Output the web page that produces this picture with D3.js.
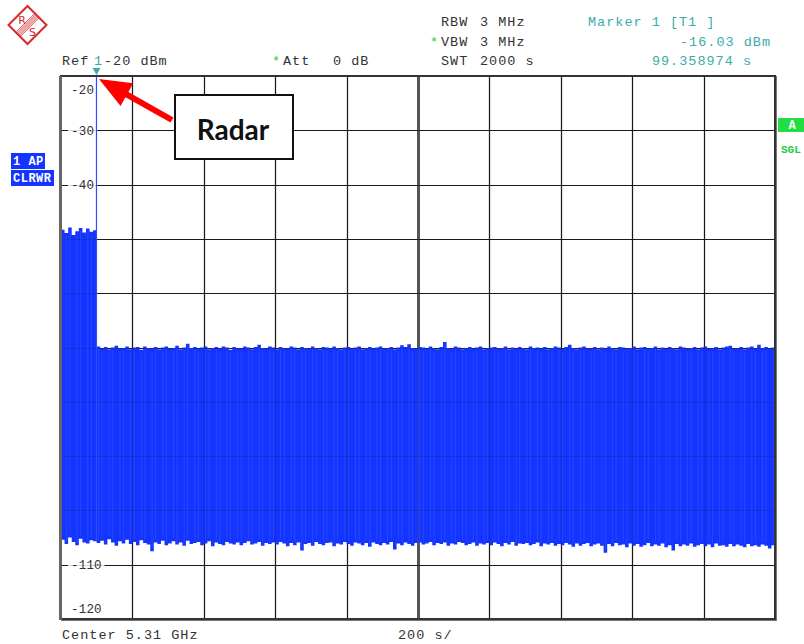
<!DOCTYPE html>
<html><head><meta charset="utf-8">
<script src="https://cdn.jsdelivr.net/npm/d3@7/dist/d3.min.js"></script>
<style>
html,body{margin:0;padding:0;background:#fff;}
svg{display:block;}
</style></head>
<body><div id="chart"></div>
<script>
// ---- data ----
const sweepTime = 2000;              // s
const binWidth = 10;                 // s per sample
const refLevel = -20, bottomLevel = -120;
const timeTicks = [0,200,400,600,800,1000,1200,1400,1600,1800,2000];
const levelTicks = [-120,-110,-100,-90,-80,-70,-60,-50,-40,-30,-20];
const levelLabels = ["-20","-30","-40","-110","-120"];
const levelLabelValues = [-20,-30,-40,-110,-120];
// upper envelope (dBm) per 10 s bin
const peakLevel = [
-48.3,-48.9,-47.9,-49.3,-48.6,-48.0,-48.8,-48.1,-48.7,-48.4,
-69.8,-70.2,-69.9,-70.3,-70.0,-69.7,-70.2,-70.1,-69.8,-70.3,
-70.0,-69.9,-70.4,-69.8,-70.1,-70.2,-69.9,-70.3,-70.0,-69.8,
-70.2,-70.1,-69.7,-70.3,-70.0,-69.3,-70.1,-69.9,-70.2,-70.0,
-69.8,-70.3,-70.1,-69.9,-70.2,-69.8,-70.0,-70.4,-69.9,-70.1,
-70.2,-69.8,-70.0,-70.3,-69.9,-69.5,-70.1,-70.2,-69.8,-70.0,
-70.3,-69.9,-70.1,-70.2,-69.8,-70.0,-70.3,-69.9,-70.1,-70.2,
-69.8,-70.1,-70.3,-69.9,-70.0,-70.2,-69.8,-70.1,-70.3,-70.0,
-69.9,-70.2,-70.0,-69.8,-70.3,-70.1,-69.9,-70.2,-70.0,-69.8,
-70.2,-70.1,-69.9,-70.3,-70.0,-69.6,-69.9,-69.4,-70.1,-70.2,
-69.9,-70.0,-70.2,-69.8,-70.1,-70.3,-69.9,-69.0,-70.1,-70.2,
-69.8,-70.0,-70.3,-70.1,-69.9,-70.2,-70.0,-69.8,-70.3,-70.1,
-70.0,-69.9,-70.2,-70.1,-69.8,-70.3,-70.0,-70.2,-69.9,-70.1,
-70.3,-69.8,-70.1,-70.0,-70.2,-69.9,-70.3,-70.1,-69.8,-70.0,
-70.2,-69.9,-69.5,-70.1,-70.3,-70.0,-69.8,-70.2,-70.1,-69.9,
-70.3,-70.0,-70.2,-69.8,-70.1,-70.3,-69.9,-70.0,-70.2,-70.1,
-69.8,-70.3,-70.0,-69.9,-70.2,-70.1,-69.8,-70.3,-70.0,-70.2,
-69.9,-70.1,-70.3,-69.8,-70.0,-70.2,-70.1,-69.9,-70.3,-70.0,
-69.8,-70.2,-70.1,-69.9,-70.3,-70.0,-69.8,-69.7,-70.2,-70.1,
-69.9,-70.3,-70.0,-69.8,-70.2,-69.5,-70.1,-69.9,-70.2,-70.0];
// lower envelope (dBm) per 10 s bin
const floorLevel = [
-105.4,-106.2,-105.0,-105.8,-106.4,-105.2,-105.9,-106.1,-105.5,-105.7,
-106.0,-105.6,-106.3,-105.3,-105.9,-106.5,-105.7,-106.1,-105.4,-106.2,
-105.8,-106.4,-105.5,-106.0,-106.3,-107.5,-105.9,-106.2,-105.6,-106.4,
-106.1,-105.7,-106.3,-105.9,-106.5,-105.6,-106.2,-106.0,-105.8,-106.4,
-106.1,-105.7,-106.6,-105.9,-106.2,-106.4,-105.8,-106.1,-106.3,-105.9,
-106.4,-106.0,-105.7,-106.3,-106.1,-105.8,-106.5,-106.0,-106.2,-105.9,
-106.3,-105.8,-106.1,-106.6,-106.0,-106.4,-105.9,-107.4,-106.2,-106.0,
-106.5,-105.8,-106.2,-106.4,-106.0,-105.9,-106.6,-106.1,-106.3,-105.8,
-106.2,-106.5,-105.9,-106.1,-106.4,-106.0,-106.7,-105.9,-106.2,-106.4,
-106.0,-106.3,-105.8,-107.2,-106.1,-106.4,-105.9,-106.2,-106.5,-106.0,
-105.9,-106.3,-106.1,-105.8,-106.4,-106.0,-106.2,-105.9,-106.5,-106.1,
-106.3,-105.8,-106.0,-106.4,-106.2,-105.9,-106.5,-106.1,-106.3,-106.0,
-106.4,-105.9,-106.2,-106.6,-106.0,-106.3,-105.8,-106.5,-106.1,-106.2,
-106.0,-106.4,-106.2,-105.9,-106.6,-106.1,-106.3,-106.0,-106.5,-106.2,
-106.4,-106.0,-106.3,-106.7,-106.1,-106.5,-106.2,-106.0,-106.6,-106.3,
-106.1,-106.5,-107.8,-106.2,-106.6,-106.0,-106.4,-106.3,-106.8,-106.1,
-106.5,-106.2,-106.7,-106.4,-106.0,-106.6,-106.3,-106.5,-106.1,-106.8,
-106.4,-107.4,-106.2,-106.6,-106.3,-106.5,-106.1,-106.7,-106.4,-106.2,
-106.6,-106.3,-106.8,-106.1,-106.5,-106.4,-106.7,-106.2,-106.6,-106.3,
-106.5,-106.8,-106.2,-106.6,-106.4,-106.7,-106.3,-106.5,-107.0,-106.4];
const markerTime = 99.358974;   // s
const markerLevel = -16.03;     // dBm

// ---- layout ----
const W = 804, H = 644;
const plot = {left: 61, right: 775, top: 76, bottom: 619};
const blue = "#1434ff", teal = "#3aabab", txt = "#333";
const mono = "'Liberation Mono','Courier New',monospace";

const x = d3.scaleLinear().domain([0, sweepTime]).range([plot.left, plot.right]);
const y = d3.scaleLinear().domain([bottomLevel, refLevel]).range([plot.bottom, plot.top]);

const svg = d3.select("#chart").append("svg").attr("width", W).attr("height", H);
svg.append("rect").attr("width", W).attr("height", H).attr("fill", "#fff");

svg.append("defs").append("clipPath").attr("id", "clip")
  .append("rect").attr("x", plot.left).attr("y", plot.top)
  .attr("width", plot.right - plot.left).attr("height", plot.bottom - plot.top);

// grid
function drawGrid(g, op) {
  g.selectAll(".vg").data(timeTicks.slice(1, -1)).join("line")
    .attr("x1", d => Math.round(x(d)) + 0.5).attr("x2", d => Math.round(x(d)) + 0.5)
    .attr("y1", plot.top).attr("y2", plot.bottom)
    .attr("stroke", d => d === 1000 ? "#555" : "#1a1a1a")
    .attr("stroke-width", d => d === 1000 ? 3 : 1.2).attr("opacity", op);
  g.selectAll(".hg").data(levelTicks.slice(1, -1)).join("line")
    .attr("x1", plot.left).attr("x2", plot.right)
    .attr("y1", d => Math.round(y(d)) + 0.5).attr("y2", d => Math.round(y(d)) + 0.5)
    .attr("stroke", "#1a1a1a").attr("stroke-width", 1.2).attr("opacity", op);
}
drawGrid(svg.append("g"), 1);

// level labels
const lab = svg.append("g").attr("font-family", mono).attr("font-size", 12.5).attr("fill", txt);
levelLabelValues.forEach((v, i) => {
  let cy = y(v);
  if (v === refLevel) cy += 13; else if (v === bottomLevel) cy -= 11;
  const t = levelLabels[i];
  const w = t.length * 7.4;
  lab.append("rect").attr("x", 68).attr("y", cy - 7).attr("width", w + 7).attr("height", 14).attr("fill", "#fff");
  lab.append("text").attr("x", 71).attr("y", cy + 4.5).attr("letter-spacing", 0.2).text(t);
});

// trace
const trace = svg.append("g").attr("clip-path", "url(#clip)");
const bins = peakLevel.map((p, i) => ({t: i * binWidth, hi: p, lo: floorLevel[i]}));
const stepData = bins.concat([{t: sweepTime, hi: peakLevel[peakLevel.length - 1], lo: floorLevel[floorLevel.length - 1]}]);
const area = d3.area().curve(d3.curveStepAfter)
  .x(d => x(d.t)).y0(d => y(d.lo)).y1(d => y(d.hi));
trace.append("path").datum(stepData).attr("d", area).attr("fill", blue);
// lighter sweep lines inside the envelope
trace.selectAll(".sw").data(bins.filter((d, i) => i % 3 !== 0)).join("line")
  .attr("x1", d => x(d.t + binWidth * 0.5)).attr("x2", d => x(d.t + binWidth * 0.5))
  .attr("y1", d => y(d.hi) + 3).attr("y2", d => y(d.lo) - 3)
  .attr("stroke", "#5c7aff").attr("stroke-width", 0.8).attr("opacity", 0.35);
// faint grid showing through the trace
drawGrid(trace.append("g"), 0.18);
// marker spike
const mBin = bins[Math.floor(markerTime / binWidth)];
trace.append("line")
  .attr("x1", x(markerTime)).attr("x2", x(markerTime))
  .attr("y1", y(mBin.lo)).attr("y2", y(markerLevel))
  .attr("stroke", "#2f4bff").attr("stroke-width", 1.2);

// frame
svg.append("rect").attr("x", plot.left).attr("y", plot.top)
  .attr("width", plot.right - plot.left).attr("height", plot.bottom - plot.top)
  .attr("fill", "none").attr("stroke", "#333").attr("stroke-width", 2);
svg.append("line").attr("x1", plot.left - 0.5).attr("x2", plot.left - 0.5)
  .attr("y1", plot.top).attr("y2", plot.bottom + 1).attr("stroke", "#666").attr("stroke-width", 3);
svg.append("line").attr("x1", plot.right + 1.5).attr("x2", plot.right + 1.5)
  .attr("y1", plot.top).attr("y2", plot.bottom + 1).attr("stroke", "#777").attr("stroke-width", 1);
svg.append("line").attr("x1", plot.left).attr("x2", plot.right + 2)
  .attr("y1", plot.bottom + 1.5).attr("y2", plot.bottom + 1.5).attr("stroke", "#777").attr("stroke-width", 1);

// marker triangle
const mx = x(markerTime);
svg.append("path").attr("d", `M${mx - 4},${plot.top - 8} L${mx + 4},${plot.top - 8} L${mx},${plot.top - 1} Z`).attr("fill", teal);

// header text
const hdr = svg.append("g").attr("font-family", mono).attr("font-size", 13.5).attr("fill", txt).attr("letter-spacing", 1);
function t(xp, yp, s, col, anchor) {
  return hdr.append("text").attr("x", xp).attr("y", yp).attr("fill", col || txt)
    .attr("text-anchor", anchor || "start").text(s);
}
t(441, 26, "RBW"); t(480, 26, "3 MHz");
t(430, 46, "*", "#22cc22"); t(441, 46, "VBW"); t(480, 46, "3 MHz");
t(441, 65, "SWT"); t(480, 65, "2000 s");
t(588, 26, "Marker 1 [T1 ]", teal);
t(771, 46, "-16.03 dBm", teal, "end");
t(752, 65, "99.358974 s", teal, "end");
t(62, 65, "Ref"); t(94, 65, "1", teal); t(104, 65, "-20 dBm");
t(272, 65, "*", "#22cc22"); t(283, 65, "Att"); t(333, 65, "0 dB");
t(62, 639, "Center 5.31 GHz"); t(398, 639, "200 s/");

// left status boxes
const st = svg.append("g").attr("font-family", mono).attr("font-size", 12).attr("font-weight", "bold");
st.append("rect").attr("x", 11).attr("y", 153).attr("width", 34).attr("height", 16).attr("fill", blue);
st.append("text").attr("x", 13).attr("y", 165).attr("fill", "#fff").attr("letter-spacing", 0.5).text("1 AP");
st.append("rect").attr("x", 11).attr("y", 170).attr("width", 43).attr("height", 16).attr("fill", blue);
st.append("text").attr("x", 13).attr("y", 182).attr("fill", "#fff").attr("letter-spacing", 0.5).text("CLRWR");
// right status
st.append("rect").attr("x", 778).attr("y", 118).attr("width", 30).attr("height", 14).attr("fill", "#22dd44");
st.append("text").attr("x", 792).attr("y", 129).attr("fill", "#fff").attr("text-anchor", "middle").text("A");
st.append("text").attr("x", 781).attr("y", 153).attr("fill", "#22cc44").attr("font-size", 11).text("SGL");

// R&S logo
const logo = svg.append("g").attr("transform", "translate(27.5,25)");
const r = 19;
logo.append("path").attr("d", `M0,${-r} L${r},0 L0,${r} L${-r},0 Z`)
  .attr("fill", "none").attr("stroke", "#d42a2a").attr("stroke-width", 2);
[-3, -1.5, 0, 1.5, 3].forEach(d => {
  const s = 12.5, k = Math.SQRT1_2;
  logo.append("line")
    .attr("x1", (d - s) * k).attr("y1", (d + s) * k)
    .attr("x2", (d + s) * k).attr("y2", (d - s) * k)
    .attr("stroke", "#d42a2a").attr("stroke-width", 0.9);
});
logo.append("text").attr("x", -5.5).attr("y", -1.5).attr("text-anchor", "middle")
  .attr("font-family", "'DejaVu Sans',sans-serif").attr("font-size", 11).attr("fill", "#d42a2a").text("R");
logo.append("text").attr("x", 5).attr("y", 10.5).attr("text-anchor", "middle")
  .attr("font-family", "'DejaVu Sans',sans-serif").attr("font-size", 11).attr("fill", "#d42a2a").text("S");

// annotation arrow + box
const tip = [99, 79], tail = [172, 120];
const dx = tail[0] - tip[0], dy = tail[1] - tip[1], len = Math.hypot(dx, dy);
const ux = dx / len, uy = dy / len, hl = 32, hw = 13;
const bc = [tip[0] + ux * hl, tip[1] + uy * hl];
svg.append("line").attr("x1", bc[0] - ux * 2).attr("y1", bc[1] - uy * 2)
  .attr("x2", tail[0]).attr("y2", tail[1]).attr("stroke", "#ff0000").attr("stroke-width", 6);
svg.append("path").attr("d",
  `M${tip[0]},${tip[1]} L${bc[0] - uy * hw},${bc[1] + ux * hw} L${bc[0] + uy * hw},${bc[1] - ux * hw} Z`)
  .attr("fill", "#ff0000");
svg.append("rect").attr("x", 175).attr("y", 95).attr("width", 118).attr("height", 64)
  .attr("fill", "#fff").attr("stroke", "#111").attr("stroke-width", 2);
svg.append("text").attr("x", 233).attr("y", 140).attr("text-anchor", "middle")
  .attr("font-family", "Lato,'Open Sans',sans-serif").attr("font-weight", "bold").attr("font-size", 28)
  .attr("fill", "#111").text("Radar");
</script>
</body></html>
